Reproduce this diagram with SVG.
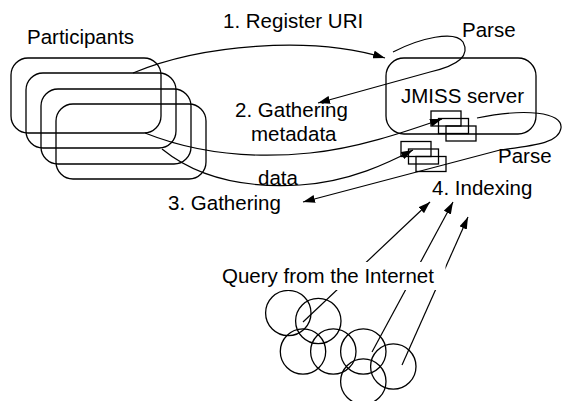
<svg xmlns="http://www.w3.org/2000/svg" width="562" height="401" viewBox="0 0 562 401">
<style>
.s{fill:none;stroke:#000;stroke-width:1.3}
.c{fill:none;stroke:#000;stroke-width:1.2}
.a{marker-end:url(#ah)}
text{font-family:"Liberation Sans",Arial,sans-serif;font-size:20.5px;fill:#000}
</style>
<defs>
<marker id="ah" markerUnits="userSpaceOnUse" markerWidth="12" markerHeight="8" refX="12" refY="4" orient="auto">
<path d="M0,0 L12,4 L0,8 z" fill="#000"/>
</marker>
</defs>
<rect width="562" height="401" fill="#fff"/>
<g id="participants">
<rect class="s" x="11" y="58" width="150" height="75" rx="17"/>
<rect class="s" x="26" y="73" width="150" height="75" rx="17"/>
<rect class="s" x="41" y="89" width="150" height="75" rx="17"/>
<rect class="s" x="56" y="104" width="150" height="75" rx="17"/>
<text x="27" y="44">Participants</text>
</g>
<g id="jmiss">
<rect class="s" x="386" y="58" width="150" height="76" rx="18"/>
<text x="401" y="103">JMISS server</text>
</g>
<g id="docs1">
<rect class="s" x="431" y="111" width="30" height="15"/>
<rect class="s" x="438.5" y="118.5" width="30" height="15"/>
<rect class="s" x="446" y="126" width="30" height="15"/>
</g>
<g id="docs2">
<rect class="s" x="401" y="141.5" width="30" height="15"/>
<rect class="s" x="408.5" y="149" width="30" height="15"/>
<rect class="s" x="416" y="156.5" width="30" height="15"/>
</g>
<g id="internet">
<circle class="s" cx="288.3" cy="313" r="22.7"/>
<circle class="s" cx="318.3" cy="321" r="22.7"/>
<circle class="s" cx="303" cy="351.5" r="22.7"/>
<circle class="s" cx="333.3" cy="351.5" r="22.7"/>
<circle class="s" cx="363.3" cy="351.5" r="22.7"/>
<circle class="s" cx="393.3" cy="366.5" r="22.7"/>
<circle class="s" cx="363.3" cy="381.5" r="22.7"/>
</g>
<g id="connectors">
<path class="c a" d="M133,73 C200,45 310,35 385,58"/>
<path class="c a" d="M393,52 C420,38 455,30 463,42 C470,55 460,65 430,72 L318,103"/>
<path class="c a" d="M145,133 C200,155 260,158 310,153 C360,148 410,130 442,119"/>
<path class="c a" d="M162,149 C200,180 250,188 300,185 C350,182 390,162 413,150"/>
<path class="c a" d="M477,118 C525,108 563,112 561,128 C559,142 540,145 500,150 L303,202"/>
<path class="c a" d="M303,322 L430,202"/>
<path class="c a" d="M372,352 L453,202"/>
<path class="c a" d="M402,365 L468,217"/>
</g>
<g id="labels">
<text x="223" y="28">1. Register URI</text>
<text x="462" y="37">Parse</text>
<text x="235" y="117">2. Gathering</text>
<text x="251" y="141">metadata</text>
<text x="258" y="185">data</text>
<text x="168" y="210">3. Gathering</text>
<text x="498" y="163">Parse</text>
<text x="432" y="195">4. Indexing</text>
</g>
<g id="query">
<rect x="218" y="262" width="227.5" height="28" fill="#fff"/>
<text x="222" y="283">Query from the Internet</text>
</g>
</svg>
